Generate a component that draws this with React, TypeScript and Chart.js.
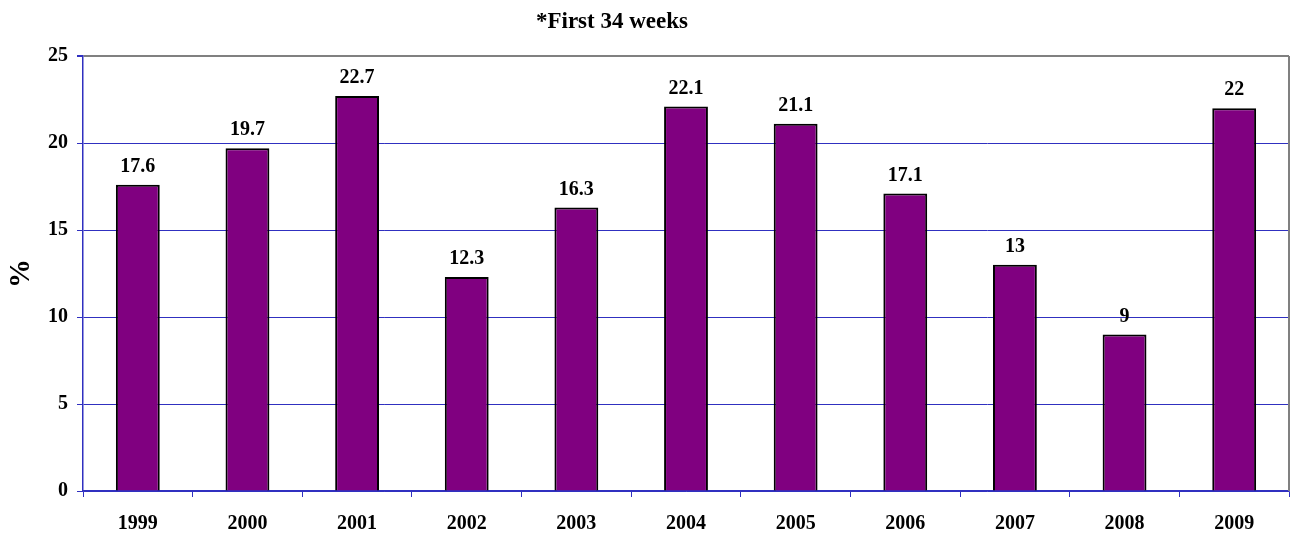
import React, { useEffect, useRef } from "react";
import { Chart, registerables } from "chart.js";

Chart.register(...registerables);

const years = ["1999", "2000", "2001", "2002", "2003", "2004", "2005", "2006", "2007", "2008", "2009"];
const values = [17.6, 19.7, 22.7, 12.3, 16.3, 22.1, 21.1, 17.1, 13, 9, 22];
const titleText = "*First 34 weeks";
const yAxisLabel = "%";

const FONT = '"Liberation Serif", "Times New Roman", serif';
const BLUE = "#3030c0";
const GRAY = "#808080";

export default function App() {
  const ref = useRef<HTMLCanvasElement | null>(null);

  useEffect(() => {
    if (!ref.current) return;
    const labelPlugin = {
      id: "labelsAndFrame",
      afterDatasetsDraw(chart: any) {
        const ctx = chart.ctx;
        const meta = chart.getDatasetMeta(0);
        ctx.save();
        ctx.fillStyle = "#000";
        ctx.font = `bold 20px ${FONT}`;
        ctx.textAlign = "center";
        ctx.textBaseline = "bottom";
        meta.data.forEach((el: any, i: number) => {
          ctx.fillText(String(values[i]), el.x, el.y - 8);
        });
        // right border
        const a = chart.chartArea;
        ctx.strokeStyle = GRAY;
        ctx.lineWidth = 2;
        ctx.beginPath();
        ctx.moveTo(a.right, a.top);
        ctx.lineTo(a.right, a.bottom);
        ctx.stroke();
        // title
        ctx.font = `bold 23px ${FONT}`;
        ctx.textBaseline = "middle";
        ctx.fillText(titleText, a.left + a.width * 0.4386, 22);
        ctx.restore();
      },
    };

    const chart = new Chart(ref.current, {
      type: "bar",
      data: {
        labels: years,
        datasets: [
          {
            data: values,
            backgroundColor: "#800080",
            borderColor: "#000000",
            borderWidth: 2,
            categoryPercentage: 1,
            barPercentage: 0.4,
          },
        ],
      },
      options: {
        animation: false,
        responsive: false,
        layout: { padding: { left: 0, right: 9, top: 56, bottom: 0 } },
        plugins: {
          legend: { display: false },
          tooltip: { enabled: false },
          title: { display: false },
        },
        scales: {
          x: {
            offset: true,
            grid: {
              offset: true,
              drawOnChartArea: false,
              drawTicks: true,
              tickLength: 6,
              color: BLUE,
              tickColor: BLUE,
            },
            border: { color: BLUE, width: 1.5 },
            ticks: {
              color: "#000",
              font: { family: FONT, size: 20, weight: "bold" },
              padding: 15,
              maxRotation: 0,
            },
            afterFit(scale: any) {
              scale.height = 43;
            },
          },
          y: {
            min: 0,
            max: 25,
            ticks: {
              stepSize: 5,
              color: "#000",
              font: { family: FONT, size: 20, weight: "bold" },
              padding: 9,
            },
            grid: {
              color: (c: any) => (c.tick && c.tick.value === 25 ? GRAY : BLUE),
              lineWidth: (c: any) => (c.tick && c.tick.value === 25 ? 2 : 1),
              tickColor: BLUE,
              tickLength: 6,
            },
            border: { color: BLUE, width: 1.5 },
            title: {
              display: true,
              text: yAxisLabel,
              color: "#000",
              font: { family: FONT, size: 29, weight: "bold" },
              lineHeight: 1.2,
              padding: { top: 4, bottom: 0 },
            },
            afterFit(scale: any) {
              scale.width = 83;
            },
          },
        },
      },
      plugins: [labelPlugin],
    } as any);
    return () => chart.destroy();
  }, []);

  return (
    <div style={{ position: "fixed", left: 0, top: 0, width: 1298, height: 534, background: "#fff" }}>
      <canvas ref={ref} width={1298} height={534} />
    </div>
  );
}
